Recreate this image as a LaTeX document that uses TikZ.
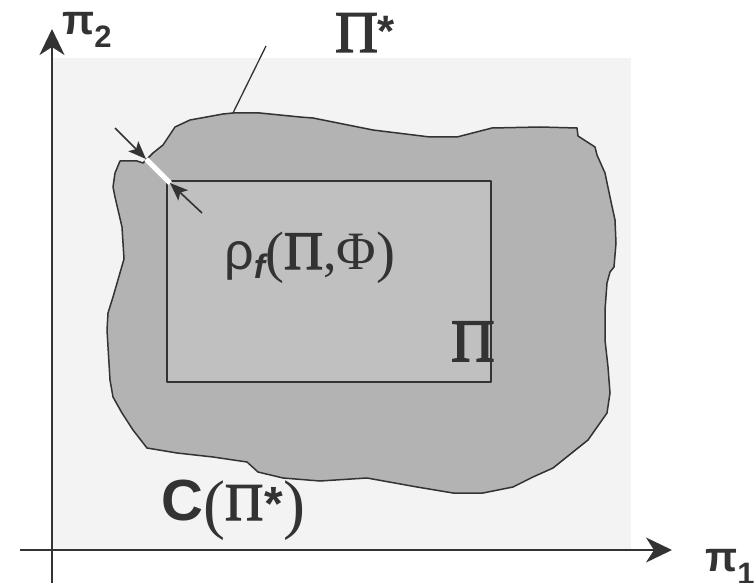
\documentclass[tikz,border=0pt]{standalone}
\usepackage{fontspec}
\setmainfont{Liberation Serif}
\newfontfamily\sansf{Liberation Sans}
\newfontfamily\pifont[FakeBold=2.5]{Liberation Serif}
\usetikzlibrary{arrows.meta}
\definecolor{bgcol}{HTML}{F3F3F3}
\definecolor{blobcol}{HTML}{B3B3B3}
\definecolor{rectcol}{HTML}{C0C0C0}
\definecolor{inkcol}{HTML}{333333}
\newcommand{\bPi}{{\pifont Π}}
\tikzset{
  axisline/.style={draw=inkcol, line width=2pt, -{Stealth[length=26pt,width=25pt,inset=8pt]}},
  outline/.style={draw=inkcol, line width=1.5pt, line join=round},
  smallarrow/.style={draw=inkcol, line width=1.6pt, -{Stealth[length=18pt,width=14pt,inset=4pt]}},
  label/.style={inner sep=0pt, text=inkcol},
}
\begin{document}
\begin{tikzpicture}[x=1pt,y=-1pt]
\useasboundingbox (0,0) rectangle (755,583);
% background region
\fill[bgcol] (53,58) rectangle (631,550);
% blob
\path[outline, fill=blobcol] (120,161) -- (137,161) -- (143,163) -- (147,159) -- (153,153) -- (163,145) -- (175,127) -- (190,120) -- (223,114) -- (233,113) -- (260,113) -- (300,117) -- (313,118) -- (373,130) -- (430,137) -- (457,137) -- (492,128) -- (540,127) -- (577,128) -- (578,136) -- (595,147) -- (597,155) -- (605,173) -- (610,197) -- (615,220) -- (616,243) -- (614,267) -- (610,272) -- (607,283) -- (605,310) -- (605,340) -- (608,367) -- (610,393) -- (607,413) -- (588,440) -- (553,468) -- (533,477) -- (513,487) -- (483,493) -- (453,493) -- (417,487) -- (367,478) -- (320,481) -- (283,478) -- (258,472) -- (247,462) -- (213,457) -- (177,453) -- (147,448) -- (133,430) -- (122,413) -- (113,397) -- (110,380) -- (107,330) -- (108,313) -- (113,297) -- (124,259) -- (122,227) -- (115,197) -- (113,187) -- (115,173) -- cycle;
% inner rectangle
\path[outline, fill=rectcol] (167,181) rectangle (491,382);
% axes
\coordinate (xs) at (20,550);
\coordinate (xe) at (672,550);
\coordinate (ys) at (52,583);
\coordinate (ye) at (52,29);
\draw[axisline] (xs) -- (xe);
\draw[axisline] (ys) -- (ye);
% leader line
\coordinate (leadA) at (266,46);
\coordinate (leadB) at (233,113);
\draw[draw=inkcol, line width=1.3pt] (leadA) -- (leadB);
% white gap
\coordinate (w1) at (146,159);
\coordinate (w2) at (170,183);
\draw[white, line width=5pt] (w1) -- (w2);
% arrows
\coordinate (a1) at (115,128);
\coordinate (a2) at (202,213);
\draw[smallarrow] (a1) -- (w1);
\draw[smallarrow] (a2) -- (w2);
% labels
\node[label, anchor=base west] (pi2) at (62,35) {\sansf\bfseries\fontsize{42}{42}\selectfont π\raisebox{-13pt}{\fontsize{31}{31}\selectfont 2}};
\node[label, anchor=base west] (pi1) at (705,571) {\sansf\bfseries\fontsize{42}{42}\selectfont π\raisebox{-13pt}{\fontsize{31}{31}\selectfont 1}};
\node[label, anchor=base west] (pstar) at (335,52) {\fontsize{59}{59}\selectfont\bPi\raisebox{5pt}{\sansf\bfseries\fontsize{44}{44}\selectfont *}};
\node[label, anchor=base west] (pin) at (451,361) {\fontsize{60}{60}\selectfont\bPi};
\node[label, anchor=base west] (rho) at (224,269) {{\sansf\fontsize{52}{52}\selectfont ρ}\raisebox{-9pt}{\sansf\bfseries\itshape\fontsize{34}{34}\selectfont f}\fontsize{54}{54}\selectfont\raisebox{-2pt}{\fontsize{57}{57}\selectfont(}\bPi,Φ\raisebox{-2pt}{\fontsize{57}{57}\selectfont)}};
\node[label, anchor=base west] (cpi) at (161,520) {{\sansf\bfseries\fontsize{58}{58}\selectfont C}\fontsize{53}{53}\selectfont\raisebox{-6pt}{\fontsize{66}{66}\selectfont(}\bPi\kern1pt{\sansf\bfseries\fontsize{48}{48}\selectfont *}\raisebox{-6pt}{\fontsize{66}{66}\selectfont)}};
\end{tikzpicture}
\end{document}
